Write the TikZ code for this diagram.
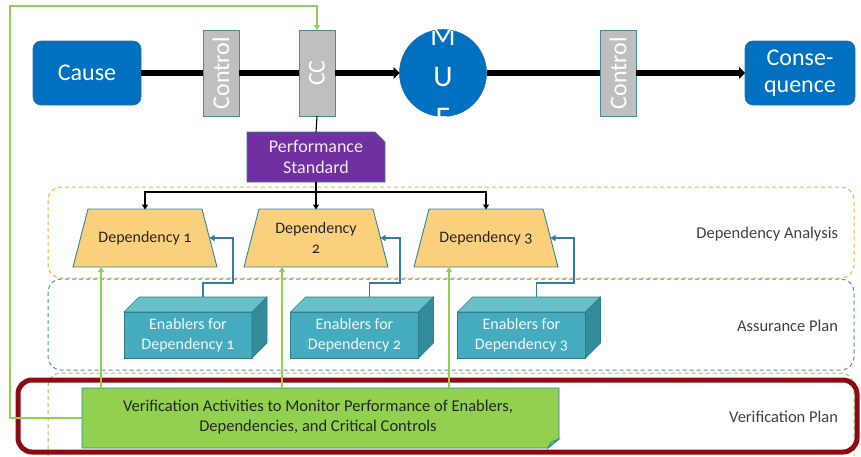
\documentclass[tikz,border=0pt]{standalone}
\usepackage{fontspec}
\usepackage{graphicx}
\setmainfont{Carlito}[Numbers=OldStyle]
\usetikzlibrary{shapes.misc,calc,arrows.meta}

\definecolor{causeblue}{HTML}{0070C0}
\definecolor{causeedge}{HTML}{2C6E9E}
\definecolor{ctrlgray}{HTML}{BFBFBF}
\definecolor{ctrledge}{HTML}{4A8A94}
\definecolor{psviolet}{HTML}{7030A0}
\definecolor{depfill}{HTML}{FBD07C}
\definecolor{tealedge}{HTML}{31849B}
\definecolor{conteal}{HTML}{2F7FA0}
\definecolor{dashorange}{HTML}{F2B535}
\definecolor{dashblue}{HTML}{5B8DB8}
\definecolor{vgreen}{HTML}{92D050}
\definecolor{vflap}{HTML}{7DB83E}
\definecolor{framered}{HTML}{8B0A14}
\definecolor{enfront}{HTML}{45ABBF}
\definecolor{entop}{HTML}{6BBFCB}
\definecolor{enside}{HTML}{328C9B}
\definecolor{enedge}{HTML}{2B7D8A}
\definecolor{labelgray}{HTML}{404040}

\tikzset{
  every node/.style={inner sep=0pt, outer sep=0pt},
  bluebox/.style={rounded corners=8pt, fill=causeblue, draw=causeedge, line width=0.6pt,
    minimum width=108pt, minimum height=64pt, text=white, align=center,
    font=\fontsize{24}{27}\selectfont},
  ctrlbox/.style={fill=ctrlgray, draw=ctrledge, line width=0.8pt,
    minimum width=36pt, minimum height=86pt, text=white,
    font=\fontsize{24}{27}\selectfont},
  mainline/.style={line width=6pt, black},
  mainarrow/.style={mainline, -{Triangle[length=6pt,width=12pt]}},
  psbox/.style={chamfered rectangle, chamfered rectangle corners=north east,
    chamfered rectangle xsep=5pt, chamfered rectangle ysep=5pt,
    fill=psviolet, draw=tealedge, line width=0.8pt,
    minimum width=138pt, minimum height=50pt, text=white!90!psviolet, align=center,
    font=\fontsize{18}{21}\selectfont},
  deptext/.style={minimum width=144pt, minimum height=58pt, text=black!85, align=center,
    font=\fontsize{16}{20}\selectfont},
  depshape/.style={fill=depfill, draw=tealedge, line width=0.9pt},
  enabbox/.style={fill=enfront, draw=enedge, line width=0.6pt,
    minimum width=128pt, minimum height=46pt, text=white!92!enfront, align=center,
    font=\fontsize{16}{20}\selectfont},
  zonelabel/.style={anchor=east, text=labelgray, font=\fontsize{16.5}{19}\selectfont},
  zone/.style={line width=1pt, dash pattern=on 4pt off 3pt, rounded corners=13pt},
  feed/.style={line width=1.1pt, black, -{Triangle[length=5pt,width=6pt]}},
  tealcon/.style={line width=1.2pt, conteal, -{Triangle[length=5pt,width=6pt]}},
  greencon/.style={line width=1.1pt, vgreen, -{Triangle[length=5pt,width=6pt]}},
}

\begin{document}
\begin{tikzpicture}[x=1pt, y=-1pt]
\useasboundingbox (0,0) rectangle (861,456);

% dashed zones
\draw[zone, dashorange] (48,187) rectangle (854,278);
\draw[zone, dashblue] (48,279) rectangle (854,370);
\draw[zone, vgreen] (48,456) -- (48,373) -- (854,373) -- (854,456);

% verification frame
\draw[framered, line width=5pt, rounded corners=14pt] (18,380) rectangle (857,452);

% zone labels
\node[zonelabel] (labDA) at (838,234) {Dependency Analysis};
\node[zonelabel] (labAP) at (838,326) {Assurance Plan};
\node[zonelabel] (labVP) at (838,417) {Verification Plan};

% bow-tie row
\node[bluebox] (cause) at (87,73) {Cause};
\node[ctrlbox] (ctrlA) at (221,73) {\rotatebox{90}{Control}};
\node[ctrlbox] (cc) at (317,73) {\rotatebox{90}{CC}};
\node[circle, fill=causeblue, draw=causeedge, line width=0.6pt, minimum size=87pt] (mue) at (443,73) {};
\begin{scope}
  \clip (mue.center) circle (43.5pt);
  \node[text=white, align=center, font=\fontsize{30}{41}\selectfont] (muetext) at (443,77) {M\\U\\E};
\end{scope}
\node[ctrlbox] (ctrlB) at (618,73) {\rotatebox{90}{Control}};
\node[bluebox, minimum width=110pt] (cons) at (800,73) {Conse-\\quence};

\draw[mainline] (cause.east) -- (ctrlA.west);
\draw[mainline] (ctrlA.east) -- (cc.west);
\draw[mainarrow] (cc.east) -- (mue.west);
\draw[mainline] (mue.east) -- (ctrlB.west);
\draw[mainarrow] (ctrlB.east) -- (cons.west);

% performance standard
\node[psbox] (ps) at (316,157) {Performance\\Standard};
\draw[line width=1.1pt] (cc.south) -- (ps.north);

% dependencies (trapezoids: top narrower by 15pt on each side)
\foreach \name/\cx in {d1/145, d2/316, d3/486}{
  \fill[depshape] (\cx-72,267) -- (\cx+72,267) -- (\cx+57,209) -- (\cx-57,209) -- cycle;
}
\node[deptext] (d1) at (145,238) {Dependency 1};
\node[deptext] (d2) at (316,238) {Dependency\\2};
\node[deptext] (d3) at (486,238) {Dependency 3};
\foreach \name in {d1,d2,d3}{
  \coordinate (\name side) at ($(\name.east)+(-7.5,0)$);
  \coordinate (\name top) at ($(\name.north)+(0,0.5)$);
}

\coordinate (split) at (316,192);
\draw[line width=2pt] (ps.south) -- (split);
\draw[feed] (split) -| (d1top);
\draw[feed] (split) -- (d2top);
\draw[feed] (split) -| (d3top);

% enablers (cuboids)
\foreach \name/\cx/\num in {e1/188/1, e2/354.5/2, e3/521.5/3}{
  \node[enabbox] (\name) at (\cx,335) {Enablers for\\Dependency \num};
  \filldraw[fill=entop, draw=enedge, line width=0.6pt]
    (\name.north west) -- ++(15,-15) -- ($(\name.north east)+(15,-15)$) -- (\name.north east) -- cycle;
  \filldraw[fill=enside, draw=enedge, line width=0.6pt]
    (\name.north east) -- ++(15,-15) -- ($(\name.south east)+(15,-15)$) -- (\name.south east) -- cycle;
  \coordinate (\name top) at ($(\name.north)+(15,-15)$);
}

\coordinate (k1) at (233,283);
\coordinate (k2) at (400,283);
\coordinate (k3) at (574,283);
\draw[tealcon] (e1top) |- (k1) |- (d1side);
\draw[tealcon] (e2top) |- (k2) |- (d2side);
\draw[tealcon] (e3top) |- (k3) |- (d3side);

% verification activities (note with folded corner)
\node[minimum width=477pt, minimum height=60pt] (v) at (320.5,418) {};
\filldraw[fill=vgreen, draw=tealedge, line width=0.9pt]
  (v.north west) -- (v.north east) -- ($(v.south east)+(0,-9)$)
  -- ($(v.south east)+(-11,0)$) -- (v.south west) -- cycle;
\filldraw[fill=vflap, draw=tealedge, line width=0.7pt]
  ($(v.south east)+(0,-9)$) -- ($(v.south east)+(-11,0)$) -- ($(v.south east)+(-8,-6)$) -- cycle;
\node[text=black!85, align=center, font=\fontsize{16.5}{19.5}\selectfont] (vtext) at (318,417)
  {Verification Activities to Monitor Performance of Enablers,\\Dependencies, and Critical Controls};

\coordinate (g1) at (101,267);
\coordinate (g2) at (282,267);
\coordinate (g3) at (449,267);
\draw[greencon] (v.north -| g1) -- (g1);
\draw[greencon] (v.north -| g2) -- (g2);
\draw[greencon] (v.north -| g3) -- (g3);

% feedback loop to the critical control
\draw[greencon] (v.west) -- ++(-72,0) |- ($(cc.north)+(0,-24)$) -- (cc.north);

\end{tikzpicture}
\end{document}
